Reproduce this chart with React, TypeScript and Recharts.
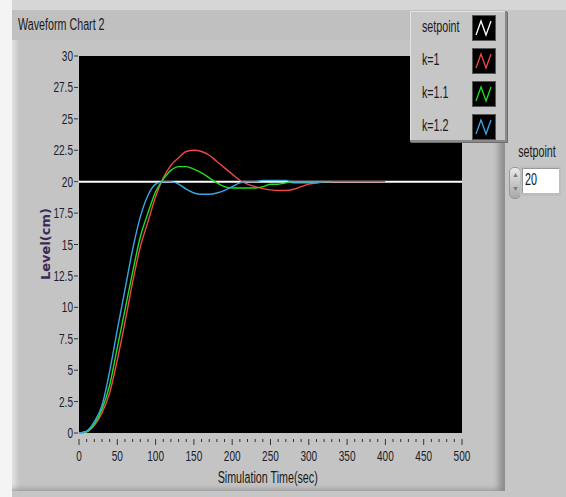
import React from "react"
import { LineChart, Line, XAxis, YAxis, CartesianGrid } from "recharts"

// time axis (sec)
const timeK1 = [
  0, 10, 20, 30, 40, 50, 60, 70, 80, 90, 100, 110, 120, 130, 140, 150, 160, 170, 180, 190, 200,
  210, 220, 230, 240, 250, 260, 270, 280, 290, 300, 310, 320, 330, 340, 350, 360, 370, 380, 390, 400,
]
const timeShort = [
  0, 10, 20, 30, 40, 50, 60, 70, 80, 90, 100, 110, 120, 130, 140, 150, 160, 170, 180, 190, 200,
  210, 220, 230, 240, 250, 260, 270, 280, 290, 300, 310, 320, 330,
]

// level (cm)
const levelK1 = [
  0, 0.1, 0.6, 1.6, 3.2, 5.8, 8.8, 12.0, 14.8, 16.8, 18.8, 20.3, 21.3, 21.9, 22.4, 22.5, 22.4, 22.1, 21.6, 21.1, 20.6,
  20.1, 19.8, 19.6, 19.45, 19.35, 19.3, 19.3, 19.4, 19.6, 19.8, 19.9, 20.0, 20.0, 20.0, 20.0, 20.0, 20.0, 20.0, 20.0, 20.0,
]
const levelK11 = [
  0, 0.1, 0.7, 1.9, 3.8, 6.8, 9.8, 12.8, 15.6, 17.5, 19.2, 20.2, 20.9, 21.2, 21.2, 21.0, 20.7, 20.3, 19.9, 19.6, 19.5,
  19.5, 19.5, 19.5, 19.6, 19.8, 19.8, 19.9, 20.0, 20.0, 20.0, 20.0, 20.0, 20.0,
]
const levelK12 = [
  0, 0.15, 0.9, 2.2, 4.9, 8.2, 11.4, 14.6, 17.2, 18.9, 19.8, 20.0, 20.0, 19.8, 19.4, 19.1, 19.0, 19.0, 19.1, 19.3, 19.6,
  19.9, 20.0, 20.0, 20.1, 20.1, 20.1, 20.1, 19.9, 19.9, 19.9, 19.9, 20.0, 20.0,
]
const setpointTime = [0, 500]
const setpointLevel = [20, 20]

const xTicks = [
  0, 10, 20, 30, 40, 50, 60, 70, 80, 90, 100, 110, 120, 130, 140, 150, 160, 170, 180, 190, 200,
  210, 220, 230, 240, 250, 260, 270, 280, 290, 300, 310, 320, 330, 340, 350, 360, 370, 380, 390, 400,
  410, 420, 430, 440, 450, 460, 470, 480, 490, 500,
]
const yTicks = [0, 2.5, 5, 7.5, 10, 12.5, 15, 17.5, 20, 22.5, 25, 27.5, 30]

const series = [
  { name: "setpoint", color: "#ffffff", time: setpointTime, level: setpointLevel },
  { name: "k=1", color: "#f04646", time: timeK1, level: levelK1 },
  { name: "k=1.1", color: "#1ee01e", time: timeShort, level: levelK11 },
  { name: "k=1.2", color: "#3aa6e6", time: timeShort, level: levelK12 },
]

const FONT = "'Liberation Sans', 'Noto Sans', sans-serif"
const SQUEEZE = 0.67

// narrow text like the LabVIEW dialog font
const Narrow = ({ children, size = 15, color = "#1a1a1a", origin = "left" }: { children: React.ReactNode; size?: number; color?: string; origin?: string }) => (
  <span style={{ display: "inline-block", fontSize: size, color, transform: `scaleX(${SQUEEZE})`, transformOrigin: origin, whiteSpace: "nowrap" }}>
    {children}
  </span>
)

// eslint-disable-next-line @typescript-eslint/no-explicit-any
const XTick = ({ x, y, payload }: any) => {
  const major = payload.value % 50 === 0
  return (
    <g>
      <line x1={x} x2={x} y1={y + 4} y2={y + (major ? 10 : 7)} stroke="#333" strokeWidth={1} />
      {major && (
        <text transform={`translate(${x},${y + 26}) scale(${SQUEEZE},1)`} textAnchor="middle" fontSize={15} fill="#1c1c2c" fontFamily={FONT}>
          {payload.value}
        </text>
      )}
    </g>
  )
}

// eslint-disable-next-line @typescript-eslint/no-explicit-any
const YTick = ({ x, y, payload }: any) => (
  <g>
    <line x1={x + 1} x2={x + 5} y1={y} y2={y} stroke="#333" strokeWidth={1} />
    <text transform={`translate(${x},${y + 5}) scale(${SQUEEZE},1)`} textAnchor="end" fontSize={15} fill="#1c1c2c" fontFamily={FONT}>
      {payload.value}
    </text>
  </g>
)

const LegendIcon = ({ color }: { color: string }) => (
  <svg width={24} height={26} style={{ display: "block" }}>
    <rect x={0.5} y={0.5} width={23} height={25} fill="#000" stroke="#555" />
    <polyline points="4,20 9,6 14,20 19,6" fill="none" stroke={color} strokeWidth={1.3} />
  </svg>
)

export default function App() {
  return (
    <div style={{ position: "absolute", left: 0, top: 0, width: 566, height: 497, background: "#c6c6c6", fontFamily: FONT, overflow: "hidden" }}>
      {/* outer strips */}
      <div style={{ position: "absolute", left: 0, top: 0, width: 566, height: 10, background: "#d6d6d6" }} />
      <div style={{ position: "absolute", left: 0, top: 0, width: 12, height: 497, background: "#f4f4f4" }} />
      {/* chart panel */}
      <div
        style={{
          position: "absolute", left: 12, top: 10, width: 493, height: 481, background: "#c4c4c4",
          boxShadow: "inset -8px -3px 6px -2px #8e8e8e, inset 8px 0 4px -4px #e2e2e2",
        }}
      />
      <div style={{ position: "absolute", left: 12, top: 10, width: 493, height: 30, background: "#c0c0c0" }} />
      <div style={{ position: "absolute", left: 18, top: 16 }}>
        <Narrow size={16}>Waveform Chart 2</Narrow>
      </div>
      {/* y axis title */}
      <div
        style={{
          position: "absolute", left: 45, top: 244, transform: "translate(-50%, -50%) rotate(-90deg)",
          fontSize: 13, fontWeight: "bold", color: "#3b2b55", fontFamily: "'DejaVu Sans', sans-serif", whiteSpace: "nowrap",
        }}
      >
        Level(cm)
      </div>
      <div style={{ position: "absolute", left: 268, top: 469, width: 0, display: "flex", justifyContent: "center" }}>
        <Narrow size={16} origin="center">Simulation Time(sec)</Narrow>
      </div>

      <div style={{ position: "absolute", left: 0, top: 0 }}>
        <LineChart width={566} height={497} margin={{ top: 56, right: 104, bottom: 34, left: 19 }}>
          <CartesianGrid horizontal={false} vertical={false} fill="#000000" stroke="none" />
          <XAxis
            type="number"
            dataKey="t"
            domain={[0, 500]}
            ticks={xTicks}
            interval={0}
            height={30}
            axisLine={false}
            tickLine={false}
            tickSize={0}
            tick={<XTick />}
            allowDataOverflow
          />
          <YAxis
            type="number"
            domain={[0, 30]}
            ticks={yTicks}
            interval={0}
            width={60}
            axisLine={false}
            tickLine={false}
            tickSize={6}
            tickMargin={0}
            tick={<YTick />}
          />
          {series.map((s) => (
            <Line
              key={s.name}
              data={s.time.map((t, i) => ({ t, v: s.level[i] }))}
              dataKey="v"
              type="monotone"
              stroke={s.color}
              strokeWidth={s.name === "setpoint" ? 2 : 1.4}
              dot={false}
              isAnimationActive={false}
            />
          ))}
        </LineChart>
      </div>

      {/* legend */}
      <div
        style={{
          position: "absolute", left: 410, top: 11, width: 97, height: 131, background: "#c6c6c6",
          boxShadow: "inset -2px -2px 0 #8a8a8a, inset 1px 1px 0 #e4e4e4, 1px 1px 0 #6e6e6e",
        }}
      >
        {series.map((s, i) => (
          <div key={s.name} style={{ position: "absolute", left: 0, top: 3 + i * 33, width: 97, height: 28 }}>
            <span style={{ position: "absolute", left: 12, top: 4 }}>
              <Narrow size={16}>{s.name}</Narrow>
            </span>
            <div style={{ position: "absolute", left: 62, top: 1 }}>
              <LegendIcon color={s.color} />
            </div>
          </div>
        ))}
      </div>

      {/* setpoint control */}
      <div style={{ position: "absolute", left: 537, top: 143, width: 0, display: "flex", justifyContent: "center" }}>
        <Narrow size={16} origin="center">setpoint</Narrow>
      </div>
      <div
        style={{
          position: "absolute", left: 509, top: 167, width: 10, height: 30, borderRadius: 5,
          background: "linear-gradient(#e8e8e8, #a8a8a8)", border: "1px solid #9a9a9a",
        }}
      >
        <div style={{ position: "absolute", left: 2, top: 3, fontSize: 7, color: "#777" }}>▲</div>
        <div style={{ position: "absolute", left: 2, top: 17, fontSize: 7, color: "#777" }}>▼</div>
      </div>
      <div style={{ position: "absolute", left: 520, top: 166, width: 41, height: 30, background: "#bdbdbd" }}>
        <div style={{ position: "absolute", left: 2, top: 2, width: 37, height: 25, background: "#fff", boxShadow: "inset 1px 1px 0 #999" }}>
          <span style={{ position: "absolute", left: 3, top: 3 }}>
            <Narrow size={16} color="#111">20</Narrow>
          </span>
        </div>
      </div>
    </div>
  )
}
